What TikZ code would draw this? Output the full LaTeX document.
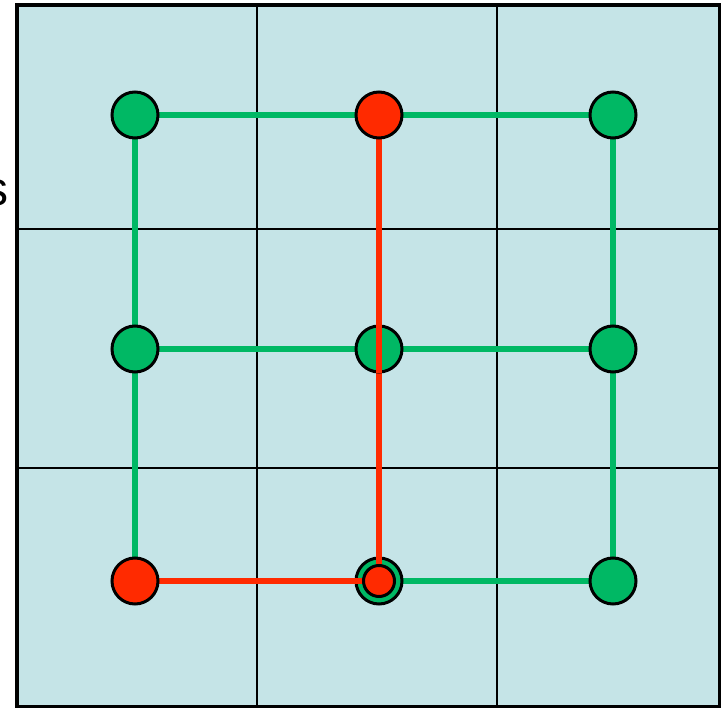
\documentclass[tikz,border=0pt]{standalone}
\usepackage{fontspec}
\setmainfont{Liberation Sans}
\definecolor{bgblue}{HTML}{C5E4E7}
\definecolor{ngreen}{HTML}{00B864}
\definecolor{nred}{HTML}{FF2A00}
\begin{document}
\begin{tikzpicture}[x=1pt,y=-1pt,
  gnode/.style={circle,draw=black,line width=3pt,fill=ngreen,minimum size=46pt,inner sep=0pt},
  rnode/.style={circle,draw=black,line width=3pt,fill=nred,minimum size=46pt,inner sep=0pt},
  rsmall/.style={circle,draw=black,line width=3pt,fill=nred,minimum size=31pt,inner sep=0pt},
  gedge/.style={draw=ngreen,line width=6pt},
  redge/.style={draw=nred,line width=6pt},
  gridline/.style={draw=black,line width=1.8pt}]
\useasboundingbox (0,0) rectangle (721,708);
\fill[bgblue] (17,5) rectangle (720,707);
\draw[gridline] (257,5) -- (257,707);
\draw[gridline] (497,5) -- (497,707);
\draw[gridline] (17,229) -- (720,229);
\draw[gridline] (17,468) -- (720,468);
\draw[black,line width=3.5pt] (17,5) rectangle (720,707);
\node[anchor=base east,inner sep=0pt,font=\fontsize{48}{48}\selectfont] (lbl) at (9,206) {s};
% node positions
\coordinate (c11) at (135,115);
\coordinate (c12) at (379,115);
\coordinate (c13) at (613,115);
\coordinate (c21) at (135,349);
\coordinate (c22) at (379,349);
\coordinate (c23) at (613,349);
\coordinate (c31) at (135,581);
\coordinate (c32) at (379,581);
\coordinate (c33) at (613,581);
% green edges
\draw[gedge] (c11) -- (c12) -- (c13);
\draw[gedge] (c21) -- (c22) -- (c23);
\draw[gedge] (c31) -- (c32) -- (c33);
\draw[gedge] (c11) -- (c21) -- (c31);
\draw[gedge] (c12) -- (c22) -- (c32);
\draw[gedge] (c13) -- (c23) -- (c33);
% red path
\draw[redge] (c12) -- (c32) -- (c31);
% nodes
\node[gnode] (n11) at (c11) {};
\node[rnode] (n12) at (c12) {};
\node[gnode] (n13) at (c13) {};
\node[gnode] (n21) at (c21) {};
\node[gnode] (n23) at (c23) {};
\node[rnode] (n31) at (c31) {};
\node[gnode] (n32) at (c32) {};
\node[gnode] (n33) at (c33) {};
\node[gnode] (n22) at (c22) {};
\draw[redge] (n22.north) -- (n22.south);
\node[rsmall] (n32r) at (c32) {};
\draw[redge] (n32r.north) -- ++(0,-20);
\draw[redge] (n32r.west) -- ++(-20,0);
\end{tikzpicture}
\end{document}
